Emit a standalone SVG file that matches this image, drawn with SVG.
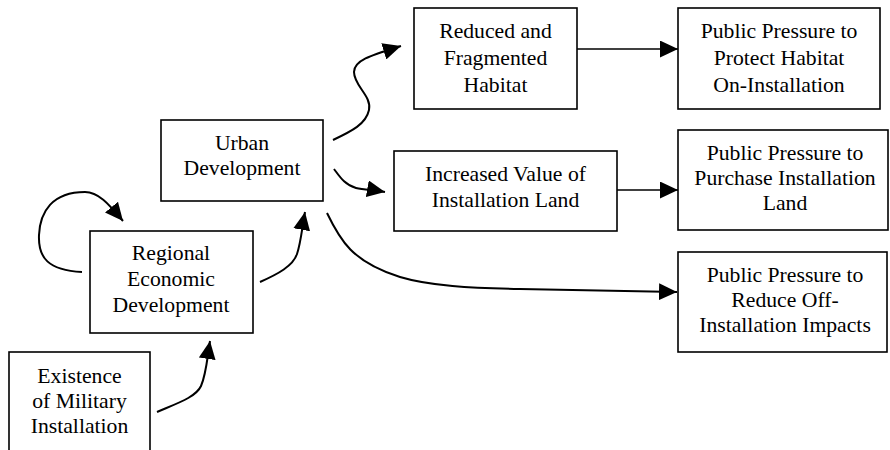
<svg xmlns="http://www.w3.org/2000/svg" width="890" height="450" viewBox="0 0 890 450">
<defs>
<marker id="ah" markerUnits="userSpaceOnUse" markerWidth="18" markerHeight="17" viewBox="0 0 17 16" refX="17" refY="8" orient="auto">
<path d="M0,0 L17,8 L0,16 z" fill="#000"/>
</marker>
</defs>
<rect width="890" height="450" fill="#fff"/>
<g id="connectors" fill="none" stroke="#000" stroke-width="2" marker-end="url(#ah)">
<path d="M157,412 C178,403 196,397 201,386 C206,375 207,360 210,341"/>
<path d="M260,282 C278,274 293,266 297,254 C301,242 302,228 305,212"/>
<path d="M82,272 C48,270 38,258 39,235 C40,212 52,192 85,192 C98,192 108,203 123,221"/>
<path d="M333,140 C352,131 366,124 369,110 C372,96 354,86 354,72 C354,60 372,55 401,46"/>
<path d="M334,169 C340,177 345,185 356,188 C364,190 374,190 385,192"/>
<path d="M327,213 C340,240 352,262 400,277 C430,286 470,288 520,289 L677,292"/>
<path d="M577,49 L678,49" stroke-width="1.6"/>
<path d="M617,190 L678,190" stroke-width="1.6"/>
</g>
<g text-anchor="middle" fill="#000">
<g id="existence">
<rect x="9" y="352" width="141" height="110" fill="#fff" stroke="#000" stroke-width="1.6"/>
<text x="79.5" y="383" font-family="Liberation Serif, serif" font-size="21.7">Existence</text>
<text x="79.5" y="408" font-family="Liberation Serif, serif" font-size="21.7">of Military</text>
<text x="79.5" y="433" font-family="Liberation Serif, serif" font-size="21.7">Installation</text>
</g>
<g id="regional">
<rect x="90" y="231" width="163" height="102" fill="#fff" stroke="#000" stroke-width="1.6"/>
<text x="171" y="260" font-family="Liberation Serif, serif" font-size="21.7">Regional</text>
<text x="171" y="286" font-family="Liberation Serif, serif" font-size="21.7">Economic</text>
<text x="171" y="312" font-family="Liberation Serif, serif" font-size="21.7">Development</text>
</g>
<g id="urban">
<rect x="161" y="120" width="162" height="81" fill="#fff" stroke="#000" stroke-width="1.6"/>
<text x="242" y="150" font-family="Liberation Serif, serif" font-size="21.7">Urban</text>
<text x="242" y="175" font-family="Liberation Serif, serif" font-size="21.7">Development</text>
</g>
<g id="reduced">
<rect x="414" y="8" width="163" height="101" fill="#fff" stroke="#000" stroke-width="1.6"/>
<text x="495.5" y="38" font-family="Liberation Serif, serif" font-size="21.7">Reduced and</text>
<text x="495.5" y="65" font-family="Liberation Serif, serif" font-size="21.7">Fragmented</text>
<text x="495.5" y="92" font-family="Liberation Serif, serif" font-size="21.7">Habitat</text>
</g>
<g id="protect">
<rect x="678" y="8" width="202" height="101" fill="#fff" stroke="#000" stroke-width="1.6"/>
<text x="779" y="38" font-family="Liberation Serif, serif" font-size="21.7">Public Pressure to</text>
<text x="779" y="65" font-family="Liberation Serif, serif" font-size="21.7">Protect Habitat</text>
<text x="779" y="92" font-family="Liberation Serif, serif" font-size="21.7">On-Installation</text>
</g>
<g id="increased">
<rect x="394" y="151" width="223" height="80" fill="#fff" stroke="#000" stroke-width="1.6"/>
<text x="505.5" y="181" font-family="Liberation Serif, serif" font-size="21.7">Increased Value of</text>
<text x="505.5" y="207" font-family="Liberation Serif, serif" font-size="21.7">Installation Land</text>
</g>
<g id="purchase">
<rect x="678" y="130" width="210" height="100" fill="#fff" stroke="#000" stroke-width="1.6"/>
<text x="785" y="160" font-family="Liberation Serif, serif" font-size="21.7">Public Pressure to</text>
<text x="785" y="185" font-family="Liberation Serif, serif" font-size="21.7">Purchase Installation</text>
<text x="785" y="210" font-family="Liberation Serif, serif" font-size="21.7">Land</text>
</g>
<g id="reduce">
<rect x="678" y="252" width="209" height="100" fill="#fff" stroke="#000" stroke-width="1.6"/>
<text x="785" y="282" font-family="Liberation Serif, serif" font-size="21.7">Public Pressure to</text>
<text x="785" y="307" font-family="Liberation Serif, serif" font-size="21.7">Reduce Off-</text>
<text x="785" y="332" font-family="Liberation Serif, serif" font-size="21.7">Installation Impacts</text>
</g>
</g>
</svg>
